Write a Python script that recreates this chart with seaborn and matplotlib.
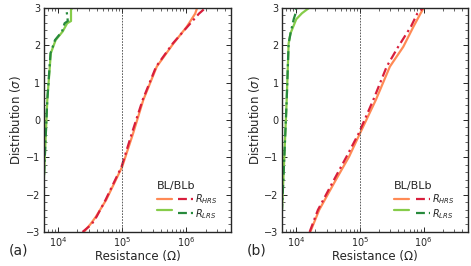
import numpy as np
import pandas as pd
import matplotlib
matplotlib.use("Agg")
import matplotlib.pyplot as plt
import seaborn as sns
from matplotlib.ticker import AutoMinorLocator, LogLocator, NullFormatter

# log10(R) at a given sigma
# panel (a)
a_hrs_sig = [-3.0, -2.8, -2.59, -2.14, -1.25, -0.36, 0.54, 1.43, 2.05, 2.5, 2.85, 3.0]
a_hrs_bl = [4.40, 4.50, 4.59, 4.75, 5.00, 5.17, 5.33, 5.54, 5.80, 6.01, 6.14, 6.17]
a_hrs_blb = [4.38, 4.52, 4.60, 4.74, 4.99, 5.15, 5.32, 5.53, 5.79, 6.02, 6.20, 6.30]
a_lrs_sig = [-3.0, -1.42, 0.54, 1.79, 2.14, 2.37, 2.59, 2.65, 2.95, 3.0]
a_lrs_bl = [3.74, 3.78, 3.83, 3.885, 3.96, 4.07, 4.14, 4.20, 4.20, 4.22]
a_lrs_blb = [3.74, 3.78, 3.83, 3.88, 3.95, 4.06, 4.10, 4.15, 4.13, 4.15]
# panel (b)
b_hrs_sig = [-3.0, -2.41, -1.61, -0.98, -0.36, 0.54, 1.43, 1.96, 2.5, 2.85, 3.0]
b_hrs_bl = [4.22, 4.36, 4.62, 4.83, 5.00, 5.25, 5.47, 5.68, 5.84, 5.95, 6.00]
b_hrs_blb = [4.21, 4.34, 4.59, 4.79, 4.98, 5.21, 5.42, 5.60, 5.80, 5.90, 5.99]
b_lrs_sig = [-3.0, -1.5, 0.54, 2.05, 2.32, 2.7, 2.86, 3.0]
b_lrs_bl = [3.76, 3.80, 3.85, 3.88, 3.91, 4.0, 4.09, 4.20]
b_lrs_blb = [3.76, 3.80, 3.85, 3.88, 3.91, 3.96, 3.99, 4.0]

c_hrs_bl = "#ff8a55"
c_hrs_blb = "#d81e3c"
c_lrs_bl = "#86cc4a"
c_lrs_blb = "#278a3c"

sns.set_style("ticks")
plt.rcParams["font.family"] = ["DejaVu Sans"]

fig = plt.figure(figsize=(4.71, 2.66), dpi=100)
ax_a = fig.add_axes([0.0934, 0.128, 0.397, 0.842])
ax_b = fig.add_axes([0.599, 0.128, 0.395, 0.842])

panels = [
    (ax_a, "(a)", a_hrs_sig, a_hrs_bl, a_hrs_blb, a_lrs_sig, a_lrs_bl, a_lrs_blb),
    (ax_b, "(b)", b_hrs_sig, b_hrs_bl, b_hrs_blb, b_lrs_sig, b_lrs_bl, b_lrs_blb),
]

dashdot = (0, (4, 1.8, 1, 1.8))

for ax, tag, hs, hb, hbb, ls, lb, lbb in panels:
    sns.lineplot(x=10 ** np.array(hb), y=hs, ax=ax, color=c_hrs_bl, lw=1.6,
                 sort=False, estimator=None)
    sns.lineplot(x=10 ** np.array(hbb), y=hs, ax=ax, color=c_hrs_blb, lw=1.6,
                 linestyle=dashdot, sort=False, estimator=None)
    sns.lineplot(x=10 ** np.array(lb), y=ls, ax=ax, color=c_lrs_bl, lw=1.6,
                 sort=False, estimator=None)
    sns.lineplot(x=10 ** np.array(lbb), y=ls, ax=ax, color=c_lrs_blb, lw=1.6,
                 linestyle=dashdot, sort=False, estimator=None)
    lines = ax.get_lines()
    ax.axvline(1e5, color="#444444", lw=0.6, ls=(0, (2, 1.5)))

    ax.set_xscale("log")
    ax.set_xlim(6e3, 5e6)
    ax.set_ylim(-3, 3)
    ax.set_yticks([-3, -2, -1, 0, 1, 2, 3])
    ax.yaxis.set_minor_locator(AutoMinorLocator(5))
    ax.xaxis.set_major_locator(LogLocator(base=10, numticks=10))
    ax.xaxis.set_minor_locator(LogLocator(base=10, subs=np.arange(2, 10), numticks=10))
    ax.xaxis.set_minor_formatter(NullFormatter())
    ax.tick_params(which="both", direction="in", top=True, right=True, labelsize=7, pad=2.5)
    ax.tick_params(which="major", length=3.5, width=0.7)
    ax.tick_params(which="minor", length=2, width=0.5)
    for s in ax.spines.values():
        s.set_linewidth(1.0)
    ax.set_xlabel("Resistance (Ω)", fontsize=8.5, labelpad=0.5)
    ax.set_ylabel("Distribution ($\\sigma$)", fontsize=8.5, labelpad=2)
    ax.text(-0.19, -0.085, tag, transform=ax.transAxes, fontsize=10, va="center")

    leg = ax.legend([lines[0], lines[2], lines[1], lines[3]],
                    ["", "", "$R_{HRS}$", "$R_{LRS}$"],
                    title="BL/BLb", ncol=2, frameon=False, fontsize=7,
                    title_fontsize=8, loc="lower right", bbox_to_anchor=(0.96, 0.025),
                    handlelength=1.5, handletextpad=0.2, columnspacing=0.5,
                    labelspacing=0.1, borderaxespad=0.2)
    leg._legend_box.align = "left"

fig.savefig("out.png", dpi=100)
